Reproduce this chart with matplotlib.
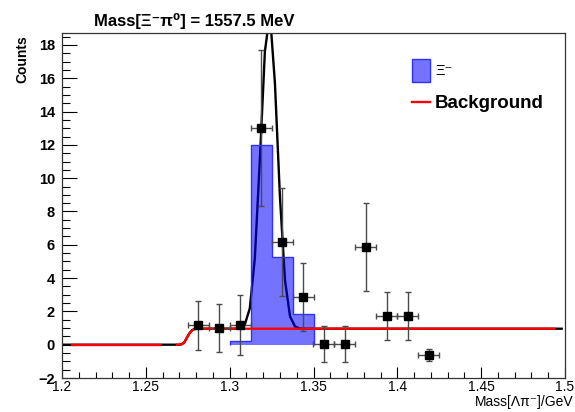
import matplotlib
matplotlib.use("Agg")
import matplotlib.pyplot as plt
from matplotlib.ticker import MultipleLocator
from matplotlib.patches import Rectangle
from matplotlib.lines import Line2D

plt.rcParams['font.family'] = ['Liberation Sans', 'DejaVu Sans']

# ---- data ----
x_pts = [1.28125, 1.29375, 1.30625, 1.31875, 1.33125, 1.34375,
         1.35625, 1.36875, 1.38125, 1.39375, 1.40625, 1.41875]
y_pts = [1.16, 1.0, 1.2, 13.0, 6.19, 2.86, 0.05, 0.05, 5.85, 1.72, 1.72, -0.6]
y_err = [1.45, 1.46, 1.8, 4.7, 3.25, 2.05, 1.1, 1.1, 2.65, 1.45, 1.45, 0.35]
x_err = [0.00625] * 12

hist_edges = [1.3, 1.3125, 1.325, 1.3375, 1.35]
hist_vals = [0.2, 12.0, 5.25, 1.84]

fit_x = [1.200, 1.270, 1.2715, 1.273, 1.2745, 1.276, 1.2775, 1.279, 1.281,
         1.300, 1.303, 1.306, 1.309, 1.312, 1.315, 1.318, 1.321, 1.324,
         1.327, 1.330, 1.333, 1.336, 1.339, 1.342, 1.345, 1.498]
fit_y = [0.0, 0.0, 0.03, 0.15, 0.42, 0.68, 0.86, 0.94, 0.96,
         0.96, 0.96, 0.99, 1.20, 2.18, 5.18, 11.1, 17.6, 19.9,
         15.7, 8.85, 3.87, 1.70, 1.09, 0.97, 0.96, 0.96]

bg1_x = [1.206, 1.2585]
bg1_y = [0.0, 0.0]
bg2_x = [1.2686, 1.270, 1.2715, 1.273, 1.2745, 1.276, 1.2775, 1.279, 1.281, 1.4936]
bg2_y = [0.0, 0.0, 0.03, 0.15, 0.42, 0.68, 0.86, 0.94, 0.96, 0.96]

title = "Mass[Ξ⁻π⁰] = 1557.5 MeV"
xlabel = "Mass[Λπ⁻]/GeV"
ylabel = "Counts"
leg_labels = ["Ξ⁻", "Background"]

# ---- figure ----
W, H = 575, 412
fig = plt.figure(figsize=(W / 100, H / 100), dpi=100)
ax = fig.add_axes([62 / W, 1 - 378 / H, (565 - 62) / W, (378 - 33) / H])

ax.plot(fit_x, fit_y, color='black', lw=1.7, zorder=2)
ax.stairs(hist_vals, hist_edges, fill=True, color='#0000ff', alpha=0.55,
          baseline=0, zorder=3, lw=0)
ax.stairs(hist_vals, hist_edges, fill=False, color='#3030ff', baseline=0,
          zorder=3, lw=1.0)
ax.plot(bg1_x, bg1_y, color='#ff0000', lw=1.7, zorder=4)
ax.plot(bg2_x, bg2_y, color='#ff0000', lw=1.7, zorder=4)
ax.errorbar(x_pts, y_pts, yerr=y_err, xerr=x_err, fmt='s', color='black',
            ecolor='#4a4a4a', elinewidth=1.0, capsize=2, capthick=1.0,
            markersize=5.2, zorder=5)

ax.set_xlim(1.2, 1.5)
ax.set_ylim(-2, 18.72)
ax.xaxis.set_minor_locator(MultipleLocator(0.01))
ax.yaxis.set_major_locator(MultipleLocator(2))
ax.yaxis.set_minor_locator(MultipleLocator(0.5))
ax.set_xticks([1.2, 1.25, 1.3, 1.35, 1.4, 1.45, 1.5])
ax.set_xticklabels(["1.2", "1.25", "1.3", "1.35", "1.4", "1.45", "1.5"])

ax.tick_params(axis='x', which='major', direction='in', length=8, width=0.8,
               labelsize=10, pad=1.5, top=False)
ax.tick_params(axis='x', which='minor', direction='in', length=4.3, width=0.8, top=False)
ax.tick_params(axis='y', which='major', direction='in', length=11, width=0.8,
               labelsize=10.5, pad=5, right=False)
ax.tick_params(axis='y', which='minor', direction='in', length=6, width=0.8, right=False)
for lab in ax.get_yticklabels():
    lab.set_fontweight('bold')
for sp in ax.spines.values():
    sp.set_linewidth(0.9)
    sp.set_color('#333333')

fig.text(94 / W, 1 - 26 / H, title, fontsize=12, fontweight='bold',
         ha='left', va='baseline')
fig.text(573 / W, 1 - 406 / H, xlabel, fontsize=10, ha='right', va='baseline')
fig.text(22 / W, 1 - 35 / H, ylabel, fontsize=10, fontweight='bold',
         rotation=90, ha='center', va='top')

# legend (drawn by hand in figure pixels)
fig.patches.append(Rectangle((412 / W, 1 - 82 / H), 18 / W, 23 / H,
                             transform=fig.transFigure, facecolor='#0000ff',
                             alpha=0.55, edgecolor='none'))
fig.patches.append(Rectangle((412 / W, 1 - 82 / H), 18 / W, 23 / H,
                             transform=fig.transFigure, facecolor='none',
                             edgecolor='#3030ff', lw=1.0))
fig.lines.append(Line2D([412 / W, 430 / W], [1 - 102 / H, 1 - 102 / H],
                        transform=fig.transFigure, color='#ff0000', lw=1.7))
fig.text(435 / W, 1 - 71 / H, leg_labels[0], fontsize=10.5, ha='left', va='center')
fig.text(435 / W, 1 - 103 / H, leg_labels[1], fontsize=13.5, fontweight='bold',
         ha='left', va='center')

fig.savefig("out.png", dpi=100)
